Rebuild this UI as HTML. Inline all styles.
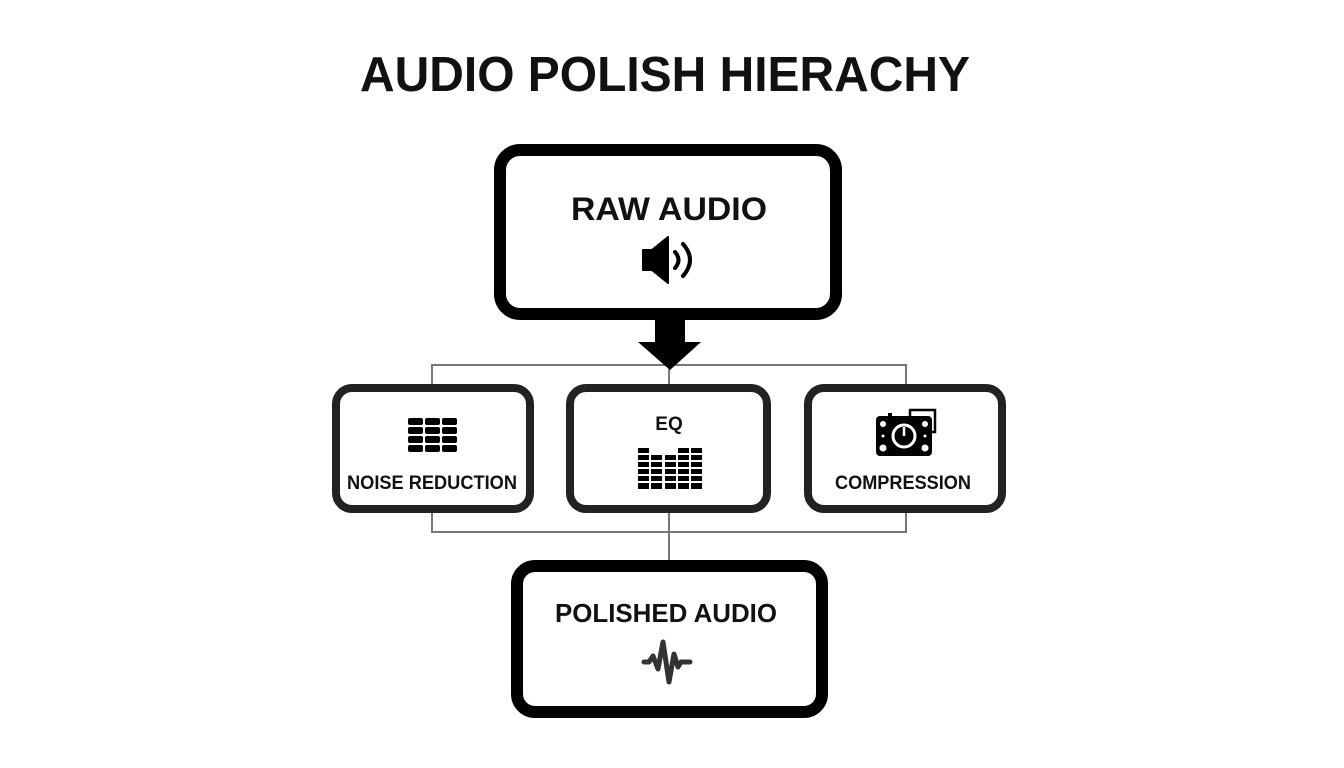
<!DOCTYPE html>
<html><head><meta charset="utf-8"><style>
html,body{margin:0;padding:0;background:#fff;}
svg{display:block;}
text{font-family:"Liberation Sans",Arial,sans-serif;font-weight:bold;fill:#111;}
</style></head><body>
<svg width="1344" height="768" viewBox="0 0 1344 768" xmlns="http://www.w3.org/2000/svg">
<rect width="1344" height="768" fill="#fff"/>
<text x="665" y="91" font-size="49" text-anchor="middle" textLength="610" lengthAdjust="spacingAndGlyphs">AUDIO POLISH HIERACHY</text>

<!-- connectors -->
<g stroke="#777" stroke-width="2" fill="none">
<polyline points="432,386 432,365 906,365 906,386"/>
<polyline points="432,512 432,532 906,532 906,512"/>
<line x1="669" y1="512" x2="669" y2="562"/>
<line x1="669" y1="365" x2="669" y2="386"/>
</g>

<!-- Raw audio box -->
<rect x="500" y="150" width="336" height="164" rx="20" fill="#fff" stroke="#000" stroke-width="12"/>
<text x="669" y="220" font-size="32" text-anchor="middle" textLength="196" lengthAdjust="spacingAndGlyphs">RAW AUDIO</text>
<path d="M643,250 h9 l16,-13 v46 l-16,-13 h-9 z" fill="#000" stroke="#000" stroke-width="2" stroke-linejoin="round"/>
<path d="M675,252 q7,8 0,16" stroke="#000" stroke-width="4" fill="none" stroke-linecap="round"/>
<path d="M683,244 q14,16 0,32" stroke="#000" stroke-width="4" fill="none" stroke-linecap="round"/>

<!-- arrow -->
<rect x="655" y="318" width="30" height="26" fill="#000"/>
<polygon points="638,342 701,342 670,370" fill="#000"/>

<!-- three boxes -->
<g fill="#fff" stroke="#222" stroke-width="8">
<rect x="336" y="388" width="194" height="121" rx="16"/>
<rect x="570" y="388" width="197" height="121" rx="16"/>
<rect x="808" y="388" width="194" height="121" rx="16"/>
</g>

<!-- NR icon -->
<g fill="#000">
<rect x="408" y="418" width="15" height="7" rx="2"/><rect x="425" y="418" width="15" height="7" rx="2"/><rect x="442" y="418" width="15" height="7" rx="2"/>
<rect x="408" y="427" width="15" height="7" rx="2"/><rect x="425" y="427" width="15" height="7" rx="2"/><rect x="442" y="427" width="15" height="7" rx="2"/>
<rect x="408" y="436" width="15" height="7" rx="2"/><rect x="425" y="436" width="15" height="7" rx="2"/><rect x="442" y="436" width="15" height="7" rx="2"/>
<rect x="408" y="445" width="15" height="7" rx="2"/><rect x="425" y="445" width="15" height="7" rx="2"/><rect x="442" y="445" width="15" height="7" rx="2"/>
</g>
<text x="432" y="489" font-size="19" text-anchor="middle" textLength="170" lengthAdjust="spacingAndGlyphs">NOISE REDUCTION</text>

<!-- EQ -->
<text x="669" y="430" font-size="19" text-anchor="middle">EQ</text>
<g fill="#000">
<rect x="638" y="448" width="11" height="5"/>
<rect x="691" y="448" width="11" height="5"/><rect x="678" y="448" width="11" height="5"/>
<rect x="638" y="455" width="11" height="5"/><rect x="651" y="455" width="11" height="5"/><rect x="665" y="455" width="11" height="5"/><rect x="678" y="455" width="11" height="5"/><rect x="691" y="455" width="11" height="5"/>
<rect x="638" y="462" width="11" height="5"/><rect x="651" y="462" width="11" height="5"/><rect x="665" y="462" width="11" height="5"/><rect x="678" y="462" width="11" height="5"/><rect x="691" y="462" width="11" height="5"/>
<rect x="638" y="469" width="11" height="5"/><rect x="651" y="469" width="11" height="5"/><rect x="665" y="469" width="11" height="5"/><rect x="678" y="469" width="11" height="5"/><rect x="691" y="469" width="11" height="5"/>
<rect x="638" y="476" width="11" height="5"/><rect x="651" y="476" width="11" height="5"/><rect x="665" y="476" width="11" height="5"/><rect x="678" y="476" width="11" height="5"/><rect x="691" y="476" width="11" height="5"/>
<rect x="638" y="483" width="11" height="6"/><rect x="651" y="483" width="11" height="6"/><rect x="665" y="483" width="11" height="6"/><rect x="678" y="483" width="11" height="6"/><rect x="691" y="483" width="11" height="6"/>
</g>

<!-- compression icon -->
<path d="M910,416 v-6 h25 v22 h-3" stroke="#000" stroke-width="2.5" fill="none"/>
<rect x="888" y="413" width="4" height="4" fill="#000"/>
<rect x="876" y="416" width="56" height="40" rx="4" fill="#000"/>
<circle cx="904" cy="436" r="11" fill="none" stroke="#fff" stroke-width="3"/>
<line x1="904" y1="427" x2="904" y2="436" stroke="#fff" stroke-width="2.5"/>
<g fill="#fff"><circle cx="883" cy="424" r="3"/><circle cx="925" cy="424" r="3"/><circle cx="883" cy="448" r="3.5"/><circle cx="925" cy="448" r="3.5"/><circle cx="883" cy="436" r="1.5"/><circle cx="925" cy="436" r="1.5"/></g>
<text x="903" y="489" font-size="19" text-anchor="middle" textLength="136" lengthAdjust="spacingAndGlyphs">COMPRESSION</text>

<!-- Polished -->
<rect x="517" y="566" width="305" height="146" rx="18" fill="#fff" stroke="#000" stroke-width="12"/>
<text x="666" y="622" font-size="26" text-anchor="middle" textLength="222" lengthAdjust="spacingAndGlyphs">POLISHED AUDIO</text>
<path d="M644,662 h5 l4,-6 l5,13 l5,-27 l6,40 l5,-28 l4,13 l3,-5 h9" stroke="#333" stroke-width="5" fill="none" stroke-linecap="round" stroke-linejoin="round"/>
</svg>
</body></html>
